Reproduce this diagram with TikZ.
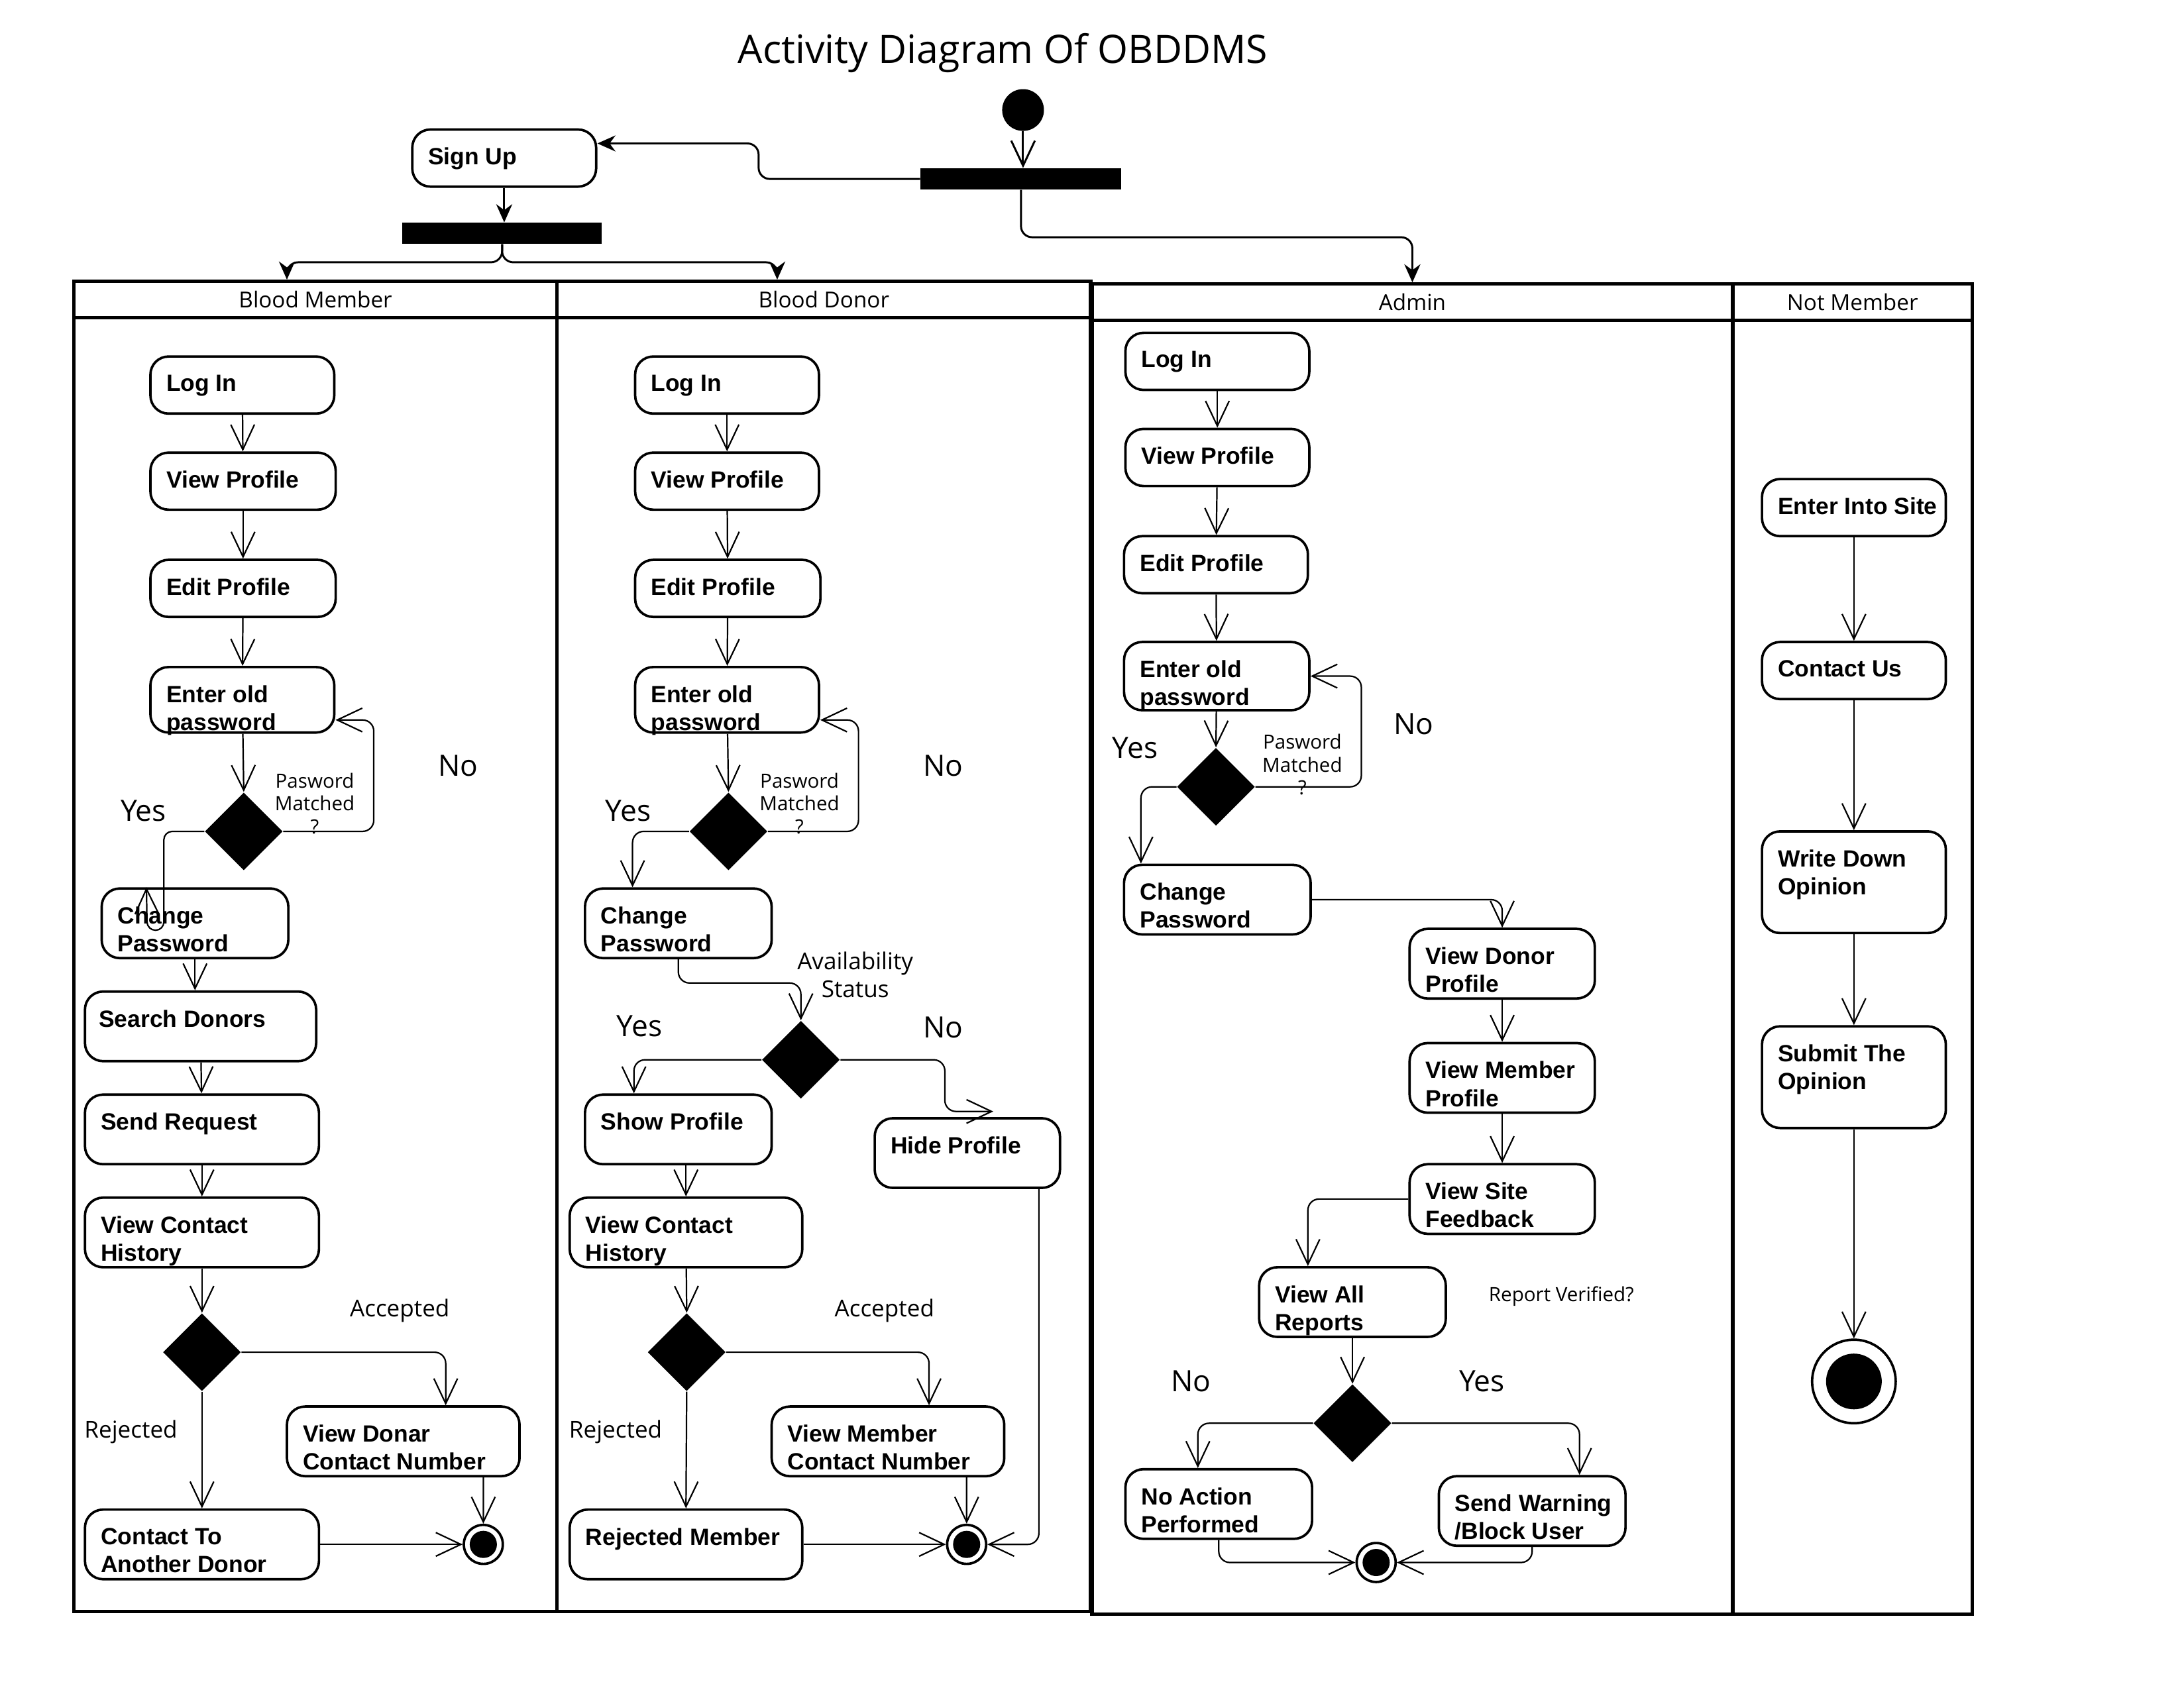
\documentclass[tikz,border=0pt]{standalone}
\usepackage{fontspec}
\setmainfont{Open Sans}
\newfontfamily\boxfont{Liberation Sans}
\usetikzlibrary{shapes.geometric,arrows.meta}

\tikzset{
  act/.style={draw, line width=1pt, rounded corners=2.6mm, inner sep=0pt,
    minimum width=26.4mm, minimum height=8.2mm},
  txt/.style={anchor=north west, inner sep=0pt, align=left, xshift=2.4mm, yshift=-2.75mm,
    font=\boxfont\bfseries\fontsize{9.6}{11.4}\selectfont},
  decision/.style={diamond, fill, inner sep=0pt, minimum width=11.2mm, minimum height=11.2mm},
  forkbar/.style={rectangle, fill, inner sep=0pt, minimum width=28.8mm, minimum height=3mm},
  startnode/.style={circle, fill, inner sep=0pt, minimum size=6mm},
  endnode/.style={circle, draw, line width=1pt, inner sep=0pt, minimum size=5.6mm,
    path picture={\fill (path picture bounding box.center) circle (#1);}},
  endnode/.default=1.95mm,
  flow/.style={-{Straight Barb[length=3.6mm,width=3.4mm]}, line width=0.6pt, rounded corners=1.6mm},
  fork/.style={-{Stealth[length=2.6mm,width=2.3mm]}, line width=0.8pt, rounded corners=1.6mm},
  lanehead/.style={draw, line width=1.4pt, inner sep=0pt, minimum height=5.2mm,
    font=\fontsize{9}{11}\selectfont},
  lane/.style={draw, line width=1.4pt},
  guard/.style={inner sep=0pt, font=\fontsize{12}{14}\selectfont},
  note/.style={inner sep=0pt, align=center, font=\fontsize{9.5}{11.4}\selectfont},
  cond/.style={inner sep=0pt, align=center, font=\fontsize{8}{9.4}\selectfont},
}

\begin{document}
\begin{tikzpicture}[x=0.2mm, y=-0.2mm]

    \path[fill=white, use as bounding box] (0,0) rectangle (1568,1215);

    \node[font=\fontsize{16}{19}\selectfont] (title) at (720,38) {Activity Diagram Of OBDDMS};

    \begin{scope}[every node/.style={lanehead}]
        \node[minimum width=69.4mm] (bmHead) at (226.5,215) {Blood Member};
        \node[minimum width=76.6mm] (bdHead) at (591.5,215) {Blood Donor};
        \node[minimum width=92mm] (adHead) at (1014,217) {Admin};
        \node[minimum width=34.4mm] (nmHead) at (1330,217) {Not Member};
    \end{scope}
    \draw[lane] (53,228) rectangle (400,1157);
    \draw[lane] (400,228) rectangle (783,1157);
    \draw[lane] (784,230) rectangle (1244,1159);
    \draw[lane] (1244,230) rectangle (1416,1159);

    \node[startnode] (start) at (734.5,79) {};
    \node[forkbar] (forkTop) at (733,128.5) {};
    \node[act, label={[txt]north west:Sign Up}] (signUp) at (362,113.5) {};
    \node[forkbar, minimum width=28.6mm] (forkSign) at (360.5,167.5) {};

    % Blood Member
    \node[act, label={[txt]north west:Log In}] (bmLogIn) at (174,276.5) {};
    \node[act, minimum width=26.6mm, label={[txt]north west:View Profile}] (bmView) at (174.5,345.5) {};
    \node[act, minimum width=26.6mm, label={[txt]north west:Edit Profile}] (bmEdit) at (174.5,422.5) {};
    \node[act, minimum height=9.4mm, label={[txt]north west:Enter old\\password}] (bmOld) at (174,502.5) {};
    \node[decision] (bmDecPw) at (175,597) {};
    \node[act, minimum width=26.8mm, minimum height=10mm, label={[txt]north west:Change\\Password}] (bmChange) at (140,663) {};
    \node[act, minimum width=33.2mm, minimum height=10mm, label={[txt, xshift=-0.3mm]north west:Search Donors}] (bmSearch) at (144,737) {};
    \node[act, minimum width=33.6mm, minimum height=10mm, label={[txt]north west:Send Request}] (bmSend) at (145,811) {};
    \node[act, minimum width=33.6mm, minimum height=10mm, label={[txt]north west:View Contact\\History}] (bmHist) at (145,885) {};
    \node[decision] (bmDecReq) at (145,971) {};
    \node[act, minimum width=33.4mm, minimum height=10mm, label={[txt]north west:View Donar\\Contact Number}] (bmDonar) at (289.5,1035) {};
    \node[act, minimum width=33.6mm, minimum height=10mm, label={[txt]north west:Contact To\\Another Donor}] (bmAnother) at (145,1109) {};
    \node[endnode] (bmEnd) at (347,1109) {};

    \node[guard] (bmNo) at (329,550) {No};
    \node[guard] (bmYes) at (103,582) {Yes};
    \node[cond] (bmMatch) at (226,577) {Pasword\\Matched\\?};
    \node[note] (bmAcc) at (287,941) {Accepted};
    \node[note] (bmRej) at (94,1028) {Rejected};

    % Blood Donor
    \node[act, label={[txt]north west:Log In}] (bdLogIn) at (522,276.5) {};
    \node[act, label={[txt]north west:View Profile}] (bdView) at (522,345.5) {};
    \node[act, minimum width=26.6mm, label={[txt]north west:Edit Profile}] (bdEdit) at (522.5,422.5) {};
    \node[act, minimum height=9.4mm, label={[txt]north west:Enter old\\password}] (bdOld) at (522,502.5) {};
    \node[decision] (bdDecPw) at (523,597) {};
    \node[act, minimum width=26.8mm, minimum height=10mm, label={[txt]north west:Change\\Password}] (bdChange) at (487,663) {};
    \node[decision] (bdDecAv) at (575,761) {};
    \node[act, minimum width=26.8mm, minimum height=10mm, label={[txt]north west:Show Profile}] (bdShow) at (487,811) {};
    \node[act, minimum width=26.6mm, minimum height=10mm, label={[txt]north west:Hide Profile}] (bdHide) at (694.5,828) {};
    \node[act, minimum width=33.4mm, minimum height=10mm, label={[txt]north west:View Contact\\History}] (bdHist) at (492.5,885) {};
    \node[decision] (bdDecReq) at (493,971) {};
    \node[act, minimum width=33.4mm, minimum height=10mm, label={[txt]north west:View Member\\Contact Number}] (bdMember) at (637.5,1035) {};
    \node[act, minimum width=33.4mm, minimum height=10mm, label={[txt]north west:Rejected Member}] (bdRejected) at (492.5,1109) {};
    \node[endnode] (bdEnd) at (694,1109) {};

    \node[guard] (bdNo) at (677,550) {No};
    \node[guard] (bdYes) at (451,582) {Yes};
    \node[cond] (bdMatch) at (574,577) {Pasword\\Matched\\?};
    \node[note] (bdAvail) at (614,700) {Availability\\Status};
    \node[guard] (bdShowYes) at (459,737) {Yes};
    \node[guard] (bdHideNo) at (677,738) {No};
    \node[note] (bdAcc) at (635,941) {Accepted};
    \node[note] (bdRej) at (442,1028) {Rejected};

    % Admin
    \node[act, label={[txt]north west:Log In}] (adLogIn) at (874,259.5) {};
    \node[act, label={[txt]north west:View Profile}] (adView) at (874,328.5) {};
    \node[act, label={[txt]north west:Edit Profile}] (adEdit) at (873,405.5) {};
    \node[act, minimum width=26.6mm, minimum height=9.8mm, label={[txt]north west:Enter old\\password}] (adOld) at (873.5,485.5) {};
    \node[decision] (adDecPw) at (873,565) {};
    \node[act, minimum width=26.8mm, minimum height=10mm, label={[txt]north west:Change\\Password}] (adChange) at (874,646) {};
    \node[act, minimum width=26.6mm, minimum height=10mm, label={[txt]north west:View Donor\\Profile}] (adDonor) at (1078.5,692) {};
    \node[act, minimum width=26.6mm, minimum height=10mm, label={[txt]north west:View Member\\Profile}] (adMember) at (1078.5,774) {};
    \node[act, minimum width=26.6mm, minimum height=10mm, label={[txt]north west:View Site\\Feedback}] (adFeedback) at (1078.5,861) {};
    \node[act, minimum width=26.8mm, minimum height=10mm, label={[txt]north west:View All\\Reports}] (adReports) at (971,935) {};
    \node[decision] (adDecRep) at (971,1022) {};
    \node[act, minimum width=26.8mm, minimum height=10mm, label={[txt]north west:No Action\\Performed}] (adNoAction) at (875,1080) {};
    \node[act, minimum width=26.8mm, minimum height=10mm, label={[txt]north west:Send Warning\\/Block User}] (adWarning) at (1100,1085) {};
    \node[endnode] (adEnd) at (988,1122) {};

    \node[guard] (adYes) at (815,537) {Yes};
    \node[guard] (adNo) at (1015,520) {No};
    \node[cond] (adMatch) at (935,549) {Pasword\\Matched\\?};
    \node[cond] (adVerified) at (1121,931) {Report Verified?};
    \node[guard] (adRepNo) at (855,992) {No};
    \node[guard] (adRepYes) at (1064,992) {Yes};

    % Not Member
    \node[act, label={[txt]north west:Enter Into Site}] (nmEnter) at (1331,364.5) {};
    \node[act, label={[txt]north west:Contact Us}] (nmContact) at (1331,481.5) {};
    \node[act, minimum height=14.6mm, label={[txt]north west:Write Down\\Opinion}] (nmWrite) at (1331,633.5) {};
    \node[act, minimum height=14.6mm, label={[txt]north west:Submit The\\Opinion}] (nmSubmit) at (1331,773.5) {};
    \node[endnode=4mm, minimum size=12mm] (nmEnd) at (1331,992) {};

    \draw[flow, line width=0.8pt] (start.south) -- (start.south |- forkTop.north);
    \draw[fork] (forkTop.west) -- ++(-116,0) |- ([yshift=2.1mm]signUp.east);
    \draw[fork] (forkTop.south) -- ++(0,34) -| (adHead.north);
    \draw[fork] (signUp.south) -- (signUp.south |- forkSign.north);
    \draw[fork] (forkSign.south) -- ++(0,13) -| ([xshift=-4.1mm]bmHead.north);
    \draw[fork] (forkSign.south) -- ++(0,13) -| ([xshift=-6.7mm]bdHead.north);

    \begin{scope}[every path/.style={flow}]
        \draw (bmLogIn) -- (bmView);
        \draw (bmView) -- (bmEdit);
        \draw (bmEdit) -- (bmOld);
        \draw (bmOld) -- (bmDecPw.north);
        \draw (bmDecPw.east) -- ++(65,0) |- ([yshift=-2.9mm]bmOld.east);
        \draw[rounded corners=1.2mm] (bmDecPw.west) -- ++(-29,0) -- ++(0,71) -- ++(-12,0) -- ([xshift=6.6mm]bmChange.north west);
        \draw (bmChange.south) -- (bmChange.south |- bmSearch.north);
        \draw (bmSearch) -- (bmSend);
        \draw (bmSend) -- (bmHist);
        \draw (bmHist) -- (bmDecReq.north);
        \draw (bmDecReq.east) -| ([xshift=6.1mm]bmDonar.north);
        \draw (bmDecReq.south) -- (bmAnother.north);
        \draw (bmAnother.east) -- (bmEnd.west);
        \draw ([xshift=11.5mm]bmDonar.south) -- (bmEnd.north);

        \draw (bdLogIn) -- (bdView);
        \draw (bdView) -- (bdEdit);
        \draw (bdEdit) -- (bdOld);
        \draw (bdOld) -- (bdDecPw.north);
        \draw (bdDecPw.east) -- ++(65,0) |- ([yshift=-2.9mm]bdOld.east);
        \draw (bdDecPw.west) -| ([xshift=7mm]bdChange.north west);
        \draw (bdChange.south) -- ++(0,17) -| (bdDecAv.north);
        \draw (bdDecAv.west) -| ([xshift=7.2mm]bdShow.north west);
        \draw (bdDecAv.east) -- ++(75,0) |- ([xshift=17.2mm, yshift=0.8mm]bdHide.north west);
        \draw (bdHist.north |- bdShow.south) -- (bdHist.north);
        \draw (bdHist) -- (bdDecReq.north);
        \draw (bdDecReq.east) -| ([xshift=5.9mm]bdMember.north);
        \draw (bdDecReq.south) -- (bdRejected.north);
        \draw (bdRejected.east) -- (bdEnd.west);
        \draw ([xshift=11.3mm]bdMember.south) -- (bdEnd.north);
        \draw ([xshift=-3.2mm]bdHide.south east) |- (bdEnd.east);

        \draw (adLogIn) -- (adView);
        \draw (adView) -- (adEdit);
        \draw (adEdit) -- (adOld);
        \draw (adOld) -- (adDecPw.north);
        \draw (adDecPw.east) -- ++(76,0) |- (adOld.east);
        \draw (adDecPw.west) -| ([xshift=2.6mm]adChange.north west);
        \draw (adChange.east) -| (adDonor.north);
        \draw (adDonor) -- (adMember);
        \draw (adMember) -- (adFeedback);
        \draw (adFeedback.west) -| ([xshift=-6.4mm]adReports.north);
        \draw (adReports) -- (adDecRep.north);
        \draw (adDecRep.west) -| ([xshift=-3mm]adNoAction.north);
        \draw (adDecRep.east) -| ([xshift=6.8mm]adWarning.north);
        \draw (adNoAction.south) |- (adEnd.west);
        \draw (adWarning.south) |- (adEnd.east);

        \draw (nmEnter) -- (nmContact);
        \draw (nmContact) -- (nmWrite);
        \draw (nmWrite) -- (nmSubmit);
        \draw (nmSubmit) -- (nmEnd);
    \end{scope}

\end{tikzpicture}
\end{document}
